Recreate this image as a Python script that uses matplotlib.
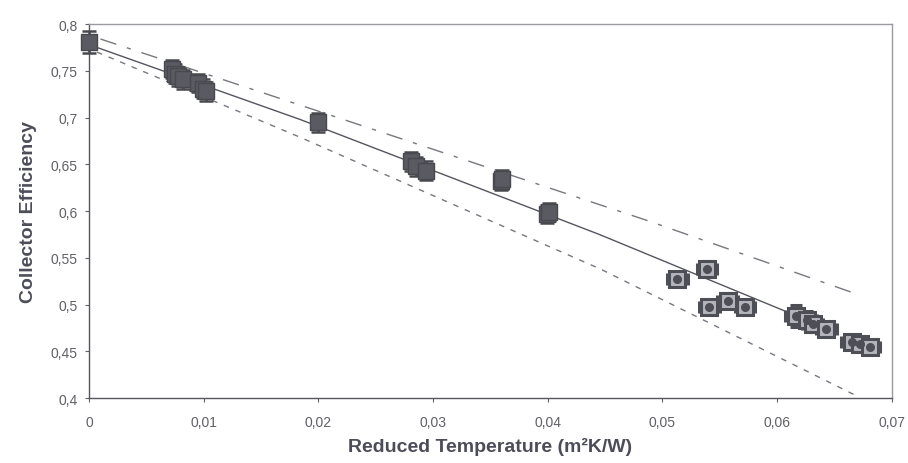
import matplotlib
matplotlib.use("Agg")
import matplotlib.pyplot as plt
from matplotlib.ticker import FuncFormatter

plt.rcParams['font.family'] = ['Liberation Sans', 'DejaVu Sans']

# Measured points: solid squares (lower reduced temperatures)
x_solid = [0.0, 0.0072, 0.0075, 0.0078, 0.0082, 0.0095, 0.0099, 0.0102,
           0.0200, 0.0281, 0.0285, 0.0294, 0.0359, 0.0360, 0.0399, 0.0401]
y_solid = [0.781, 0.752, 0.747, 0.744, 0.741, 0.737, 0.731, 0.728,
           0.695, 0.653, 0.648, 0.643, 0.632, 0.634, 0.597, 0.599]
yerr_solid = [0.012, 0.010, 0.010, 0.010, 0.010, 0.010, 0.010, 0.010,
              0.010, 0.010, 0.010, 0.010, 0.010, 0.010, 0.010, 0.010]
xerr_solid = [0.0003, 0.0004, 0.0004, 0.0004, 0.0004, 0.0004, 0.0004, 0.0004,
              0.0004, 0.0004, 0.0004, 0.0004, 0.0004, 0.0004, 0.0004, 0.0004]

# Measured points: framed markers (higher reduced temperatures)
x_frame = [0.0513, 0.0539, 0.0541, 0.0557, 0.0572, 0.0617, 0.0626, 0.0631,
           0.0643, 0.0665, 0.0672, 0.0681]
y_frame = [0.527, 0.538, 0.497, 0.504, 0.497, 0.488, 0.484, 0.479,
           0.474, 0.460, 0.458, 0.455]
yerr_frame = [0.006, 0.009, 0.007, 0.008, 0.007, 0.012, 0.009, 0.008,
              0.007, 0.007, 0.007, 0.007]
xerr_frame = [0.0009, 0.0009, 0.0009, 0.0009, 0.0009, 0.0010, 0.0009, 0.0009,
              0.0009, 0.0009, 0.0009, 0.0009]

# Fit curve and confidence bounds
fit_x = [0.0, 0.0184, 0.0445, 0.0609]
fit_y = [0.778, 0.698, 0.575, 0.492]
upper_x = [0.001, 0.0207, 0.0489, 0.067]
upper_y = [0.784, 0.704, 0.589, 0.511]
lower_x = [0.0007, 0.0184, 0.0446, 0.067]
lower_y = [0.770, 0.679, 0.538, 0.402]

x_ticks = [0, 0.01, 0.02, 0.03, 0.04, 0.05, 0.06, 0.07]
y_ticks = [0.4, 0.45, 0.5, 0.55, 0.6, 0.65, 0.7, 0.75, 0.8]

fig = plt.figure(figsize=(9.08, 4.64), dpi=100)
ax = fig.add_axes([0.098, 0.140, 0.884, 0.806])

ax.plot(fit_x, fit_y, color='#55555f', lw=1.0, zorder=2)
ax.plot(upper_x, upper_y, color='#77777f', lw=1.0, dashes=(12, 8, 3, 8), zorder=2)
ax.plot(lower_x, lower_y, color='#77777f', lw=1.0, dashes=(4, 5), zorder=2)

eb1 = ax.errorbar(x_solid, y_solid, yerr=yerr_solid, xerr=xerr_solid, fmt='s',
                  ms=12, mfc='#5a5a62', mec='#48484f', ecolor='#48484f',
                  elinewidth=1.8, capsize=5, capthick=1.8, zorder=3)

eb2 = ax.errorbar(x_frame, y_frame, yerr=yerr_frame, xerr=xerr_frame, fmt='s',
                  ms=11, mfc='#b4b4bc', mec='#4e4e56', mew=2.2, ecolor='#4e4e56',
                  elinewidth=2.0, capsize=4, capthick=2.0, zorder=3)
ax.plot(x_frame, y_frame, 'o', ms=5.5, color='#4e4e56', zorder=4)

for eb in (eb1, eb2):
    for art in eb.get_children():
        art.set_clip_on(False)

ax.set_xlim(0, 0.07)
ax.set_ylim(0.4, 0.8)
ax.set_xticks(x_ticks)
ax.set_yticks(y_ticks)

def comma_fmt(v, pos):
    s = ('%.2f' % v).rstrip('0').rstrip('.')
    return s.replace('.', ',')

ax.xaxis.set_major_formatter(FuncFormatter(comma_fmt))
ax.yaxis.set_major_formatter(FuncFormatter(comma_fmt))

ax.tick_params(axis='both', labelsize=10, colors='#606066', length=3, width=0.8)
ax.tick_params(axis='x', pad=9)
ax.tick_params(axis='y', pad=5)

for side in ['left', 'bottom']:
    ax.spines[side].set_color('#55555c')
    ax.spines[side].set_linewidth(1.0)
for side in ['top', 'right']:
    ax.spines[side].set_color('#9a9aa0')
    ax.spines[side].set_linewidth(1.0)

ax.set_xlabel('Reduced Temperature (m²K/W)', fontsize=14, fontweight='bold',
              color='#4d4d5a', labelpad=6)
ax.set_ylabel('Collector Efficiency', fontsize=14, fontweight='bold',
              color='#4d4d5a', labelpad=10)

fig.savefig('out.png', dpi=100)
